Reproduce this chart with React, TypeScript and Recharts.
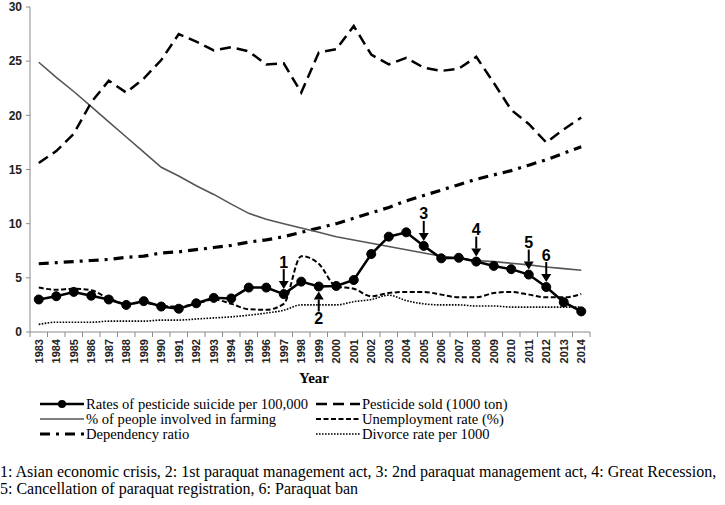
import React from 'react';
import { LineChart, Line, XAxis, YAxis, LabelList } from 'recharts';

const YEARS = ['1983', '1984', '1985', '1986', '1987', '1988', '1989', '1990', '1991', '1992', '1993', '1994', '1995', '1996', '1997', '1998', '1999', '2000', '2001', '2002', '2003', '2004', '2005', '2006', '2007', '2008', '2009', '2010', '2011', '2012', '2013', '2014'];
const SUICIDE = [3.0, 3.3, 3.7, 3.35, 3.0, 2.5, 2.85, 2.35, 2.15, 2.65, 3.15, 3.1, 4.1, 4.1, 3.5, 4.65, 4.2, 4.25, 4.8, 7.2, 8.8, 9.2, 7.95, 6.8, 6.85, 6.5, 6.1, 5.8, 5.3, 4.15, 2.75, 1.9];
const PESTICIDE = [15.6, 16.7, 18.3, 21.2, 23.2, 22.1, 23.4, 25.1, 27.5, 26.8, 26.0, 26.3, 25.9, 24.7, 24.8, 22.1, 25.8, 26.1, 28.25, 25.6, 24.7, 25.3, 24.4, 24.1, 24.3, 25.4, 23.0, 20.5, 19.2, 17.5, 18.7, 19.8];
const FARMING = [24.9, 23.5, 22.2, 20.8, 19.4, 18.0, 16.6, 15.2, 14.4, 13.5, 12.7, 11.8, 10.95, 10.4, 10.0, 9.6, 9.2, 8.8, 8.5, 8.2, 7.9, 7.6, 7.3, 7.0, 6.8, 6.6, 6.5, 6.35, 6.2, 6.0, 5.85, 5.7];
const UNEMPLOYMENT = [4.1, 3.9, 4.0, 3.85, 3.1, 2.6, 2.7, 2.4, 2.35, 2.6, 3.0, 2.6, 2.1, 2.05, 2.6, 7.0, 6.3, 4.2, 4.0, 3.3, 3.6, 3.7, 3.7, 3.45, 3.2, 3.2, 3.6, 3.7, 3.45, 3.2, 3.2, 3.5];
const DEPENDENCY = [6.3, 6.4, 6.5, 6.6, 6.7, 6.9, 7.0, 7.3, 7.4, 7.6, 7.8, 8.0, 8.3, 8.5, 8.8, 9.2, 9.6, 10.0, 10.5, 11.0, 11.5, 12.1, 12.6, 13.1, 13.6, 14.1, 14.5, 14.9, 15.4, 15.9, 16.5, 17.1];
const DIVORCE = [0.7, 0.9, 0.9, 0.9, 1.0, 1.0, 1.0, 1.1, 1.1, 1.2, 1.3, 1.4, 1.55, 1.75, 2.0, 2.5, 2.5, 2.5, 2.8, 3.0, 3.4, 2.9, 2.6, 2.5, 2.5, 2.4, 2.4, 2.3, 2.3, 2.3, 2.3, 2.3];
const Y_TICKS = [0, 5, 10, 15, 20, 25, 30];

const ANNOTATIONS = [
  { year: '1997', label: '1', dir: 'down' },
  { year: '1999', label: '2', dir: 'up' },
  { year: '2005', label: '3', dir: 'down' },
  { year: '2008', label: '4', dir: 'down' },
  { year: '2011', label: '5', dir: 'down' },
  { year: '2012', label: '6', dir: 'down' },
];

const LEGEND_LEFT = [
  { key: 'suicide', name: 'Rates of pesticide suicide per 100,000' },
  { key: 'farming', name: '% of people involved in farming' },
  { key: 'dependency', name: 'Dependency ratio' },
];
const LEGEND_RIGHT = [
  { key: 'pesticide', name: 'Pesticide sold (1000 ton)' },
  { key: 'unemployment', name: 'Unemployment rate (%)' },
  { key: 'divorce', name: 'Divorce rate per 1000' },
];

const FOOTNOTE = [
  '1: Asian economic crisis, 2: 1st paraquat management act, 3: 2nd paraquat management act, 4: Great Recession,',
  '5: Cancellation of paraquat registration, 6: Paraquat ban',
];

const W = 725;
const H = 505;
const PLOT_LEFT = 30;
const PLOT_RIGHT = 590;
const PLOT_TOP = 7;
const PLOT_BOTTOM = 332;
const X_AXIS_H = 40;
const HALF = (PLOT_RIGHT - PLOT_LEFT) / YEARS.length / 2;
const AXIS_COLOR = '#8a8a8a';
const SERIF = '"Liberation Serif", "Times New Roman", serif';
const SANS = '"Liberation Sans", Arial, sans-serif';

const STYLES: Record<string, any> = {
  suicide: { stroke: '#000', strokeWidth: 2.5, dash: undefined },
  pesticide: { stroke: '#000', strokeWidth: 2.5, dash: '11 6' },
  farming: { stroke: '#555', strokeWidth: 1.6, dash: undefined },
  unemployment: { stroke: '#000', strokeWidth: 2, dash: '5 2.5' },
  dependency: { stroke: '#000', strokeWidth: 3.2, dash: '10 6 3 6' },
  divorce: { stroke: '#000', strokeWidth: 1.6, dash: '1.6 1.4' },
};

const data = YEARS.map((year, i) => ({
  year,
  suicide: SUICIDE[i],
  pesticide: PESTICIDE[i],
  farming: FARMING[i],
  unemployment: UNEMPLOYMENT[i],
  dependency: DEPENDENCY[i],
  divorce: DIVORCE[i],
}));

function XTick(props: any) {
  const { x, y, payload, index } = props;
  const isLast = index === YEARS.length - 1;
  return (
    <g>
      <line x1={x - HALF} x2={x - HALF} y1={y} y2={y + 5} stroke={AXIS_COLOR} strokeWidth={1} />
      {isLast && <line x1={x + HALF} x2={x + HALF} y1={y} y2={y + 5} stroke={AXIS_COLOR} strokeWidth={1} />}
      <text
        transform={`translate(${x},${y + 7}) rotate(-90)`}
        textAnchor="end"
        dominantBaseline="central"
        fontFamily={SANS}
        fontWeight="bold"
        fontSize={11}
        fill="#222"
      >
        {payload.value}
      </text>
    </g>
  );
}

function Annotation(props: any) {
  const { x, y, index } = props;
  const a = ANNOTATIONS.find((an) => an.year === YEARS[index]);
  if (!a || x == null || y == null) return null;
  const down = a.dir === 'down';
  const s = down ? -1 : 1;
  const tip = y + s * 5;
  const base = y + s * 13;
  const shaftEnd = y + s * 25;
  const textY = y + s * 32;
  return (
    <g>
      <line x1={x} x2={x} y1={base} y2={shaftEnd} stroke="#000" strokeWidth={2} />
      <polygon points={`${x - 5},${base} ${x + 5},${base} ${x},${tip}`} fill="#000" />
      <text
        x={x}
        y={textY}
        textAnchor="middle"
        dominantBaseline="central"
        fontFamily={SANS}
        fontWeight="bold"
        fontSize={16}
        fill="#000"
      >
        {a.label}
      </text>
    </g>
  );
}

function LegendSample({ k }: { k: string }) {
  const st = STYLES[k];
  return (
    <svg width={44} height={12} style={{ position: 'absolute', left: 0, top: 3 }}>
      <line x1={0} x2={44} y1={6} y2={6} stroke={st.stroke} strokeWidth={st.strokeWidth} strokeDasharray={st.dash} />
      {k === 'suicide' && <circle cx={22} cy={6} r={4} fill="#000" />}
    </svg>
  );
}

function LegendItem({ k, name, left, top }: { k: string; name: string; left: number; top: number }) {
  return (
    <div style={{ position: 'absolute', left, top, height: 18, width: 300 }}>
      <LegendSample k={k} />
      <div
        style={{
          position: 'absolute',
          left: 46,
          top: 0,
          fontFamily: SERIF,
          fontSize: 14.6,
          lineHeight: '18px',
          whiteSpace: 'nowrap',
          color: '#000',
        }}
      >
        {name}
      </div>
    </div>
  );
}

export default function App() {
  const rows = [395, 410, 425];
  return (
    <div style={{ position: 'absolute', left: 0, top: 0, width: W, height: H, background: '#fff', overflow: 'hidden' }}>
      <LineChart
        width={W}
        height={H}
        data={data}
        margin={{ top: PLOT_TOP, right: W - PLOT_RIGHT, left: 0, bottom: H - PLOT_BOTTOM - X_AXIS_H }}
      >
        <XAxis
          dataKey="year"
          interval={0}
          height={X_AXIS_H}
          padding={{ left: HALF, right: HALF }}
          tickLine={false}
          tickSize={0}
          tickMargin={0}
          axisLine={{ stroke: AXIS_COLOR }}
          tick={<XTick />}
        />
        <YAxis
          width={PLOT_LEFT}
          domain={[0, 30]}
          ticks={Y_TICKS}
          interval={0}
          tickSize={4}
          tickMargin={4}
          axisLine={{ stroke: AXIS_COLOR }}
          tickLine={{ stroke: AXIS_COLOR }}
          tick={{ fontFamily: SANS, fontWeight: 'bold', fontSize: 12, fill: '#222' }}
        />
        <Line dataKey="dependency" type="linear" stroke={STYLES.dependency.stroke} strokeWidth={STYLES.dependency.strokeWidth} strokeDasharray={STYLES.dependency.dash} dot={false} isAnimationActive={false} />
        <Line dataKey="farming" type="linear" stroke={STYLES.farming.stroke} strokeWidth={STYLES.farming.strokeWidth} dot={false} isAnimationActive={false} />
        <Line dataKey="pesticide" type="linear" stroke={STYLES.pesticide.stroke} strokeWidth={STYLES.pesticide.strokeWidth} strokeDasharray={STYLES.pesticide.dash} dot={false} isAnimationActive={false} />
        <Line dataKey="divorce" type="monotone" stroke={STYLES.divorce.stroke} strokeWidth={STYLES.divorce.strokeWidth} strokeDasharray={STYLES.divorce.dash} dot={false} isAnimationActive={false} />
        <Line dataKey="unemployment" type="monotone" stroke={STYLES.unemployment.stroke} strokeWidth={STYLES.unemployment.strokeWidth} strokeDasharray={STYLES.unemployment.dash} dot={false} isAnimationActive={false} />
        <Line
          dataKey="suicide"
          type="linear"
          stroke={STYLES.suicide.stroke}
          strokeWidth={STYLES.suicide.strokeWidth}
          dot={{ r: 4.5, fill: '#000', stroke: '#000', strokeWidth: 1 }}
          isAnimationActive={false}
        >
          <LabelList dataKey="suicide" content={<Annotation />} />
        </Line>
      </LineChart>

      <div
        style={{
          position: 'absolute',
          left: 264,
          top: 369,
          width: 100,
          textAlign: 'center',
          fontFamily: SERIF,
          fontWeight: 'bold',
          fontSize: 15,
          lineHeight: '18px',
        }}
      >
        Year
      </div>

      {LEGEND_LEFT.map((it, i) => (
        <LegendItem key={it.key} k={it.key} name={it.name} left={40} top={rows[i]} />
      ))}
      {LEGEND_RIGHT.map((it, i) => (
        <LegendItem key={it.key} k={it.key} name={it.name} left={316} top={rows[i]} />
      ))}

      <div
        style={{
          position: 'absolute',
          left: 0,
          top: 463,
          fontFamily: SERIF,
          fontSize: 16,
          lineHeight: '17px',
          whiteSpace: 'nowrap',
          color: '#000',
        }}
      >
        {FOOTNOTE.map((line) => (
          <div key={line}>{line}</div>
        ))}
      </div>
    </div>
  );
}
